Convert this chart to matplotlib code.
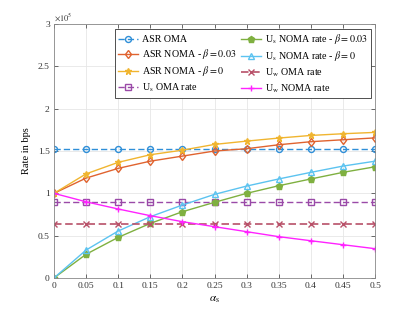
import numpy as np
import matplotlib
matplotlib.use("Agg")
import matplotlib.pyplot as plt
from matplotlib.ticker import FuncFormatter

plt.rcParams['font.family'] = ['Liberation Serif', 'DejaVu Serif']
plt.rcParams['mathtext.fontset'] = 'stix'

# alpha_s values
alpha_s = [0, 0.05, 0.1, 0.15, 0.2, 0.25, 0.3, 0.35, 0.4, 0.45, 0.5]

# rates, in units of 1e5 bps
asr_oma = [1.525] * 11
asr_noma_b003 = [1.0, 1.18, 1.295, 1.38, 1.44, 1.50, 1.527, 1.574, 1.61, 1.633, 1.655]
asr_noma_b0 = [1.0, 1.23, 1.366, 1.456, 1.51, 1.578, 1.617, 1.653, 1.684, 1.704, 1.72]
us_oma = [0.894] * 11
us_noma_b003 = [0.0, 0.28, 0.48, 0.645, 0.783, 0.894, 1.0, 1.09, 1.17, 1.248, 1.314]
us_noma_b0 = [0.0, 0.33, 0.555, 0.724, 0.862, 0.988, 1.086, 1.17, 1.248, 1.322, 1.38]
uw_oma = [0.637] * 11
uw_noma = [1.0, 0.90, 0.815, 0.736, 0.665, 0.606, 0.547, 0.488, 0.44, 0.393, 0.346]

fig = plt.figure(figsize=(4.15, 3.12), dpi=100)
ax = fig.add_axes([0.130, 0.109, 0.774, 0.814])

lw = 1.0
ms = 4.3
dash = (0, (4.5, 2.2))
ax.plot(alpha_s, asr_oma, marker='o', ls=dash, color='#2f8fd8', lw=lw, ms=ms, mfc='none', label='ASR OMA')
ax.plot(alpha_s, asr_noma_b003, '-d', color='#e0632f', lw=lw, ms=ms, mfc='none',
        label=r'ASR NOMA - $\beta = 0.03$')
ax.plot(alpha_s, asr_noma_b0, '-*', color='#f0b530', lw=lw, ms=ms + 0.5, label=r'ASR NOMA - $\beta = 0$')
ax.plot(alpha_s, us_oma, marker='s', ls=dash, color='#9a4aa8', lw=lw, ms=3.7, mfc='none',
        label=r'U$_\mathrm{s}$ OMA rate')
ax.plot(alpha_s, us_noma_b003, '-p', color='#7fb040', lw=lw, ms=ms + 0.5,
        label=r'U$_\mathrm{s}$ NOMA rate - $\beta = 0.03$')
ax.plot(alpha_s, us_noma_b0, '-^', color='#5cc3f0', lw=lw, ms=ms + 0.5, mfc='none',
        label=r'U$_\mathrm{s}$ NOMA rate - $\beta = 0$')
ax.plot(alpha_s, uw_oma, marker='x', ls=dash, color='#b85068', lw=lw + 0.2, ms=3.7,
        label=r'U$_\mathrm{w}$ OMA rate')
ax.plot(alpha_s, uw_noma, '-+', color='#ff22ff', lw=lw, ms=ms + 0.5, label=r'U$_\mathrm{w}$ NOMA rate')

ax.set_xlim(0, 0.5)
ax.set_ylim(0, 3)
ax.set_xticks(alpha_s)
ax.set_yticks([0, 0.5, 1, 1.5, 2, 2.5, 3])
ax.xaxis.set_major_formatter(FuncFormatter(lambda v, p: '%g' % v))
ax.yaxis.set_major_formatter(FuncFormatter(lambda v, p: '%g' % v))
ax.tick_params(direction='in', length=3, width=0.5, labelsize=6.8, colors='#333333',
               top=True, right=True, pad=3)
ax.grid(True, color='#e6e6e6', lw=0.6)
ax.set_axisbelow(True)
for s in ax.spines.values():
    s.set_color('#888888')
    s.set_linewidth(0.6)

ax.text(0.0, 1.005, r'$\times 10^5$', transform=ax.transAxes, fontsize=6, color='#333333',
        ha='left', va='bottom')
ax.set_xlabel(r'$\alpha_\mathrm{s}$', fontsize=8, labelpad=3)
ax.set_ylabel('Rate in bps', fontsize=7.5, labelpad=5)

leg = ax.legend(ncol=2, loc='upper right', bbox_to_anchor=(0.9875, 0.982), borderaxespad=0,
                fontsize=7.2, frameon=True, fancybox=False, edgecolor='#333333', framealpha=1,
                handlelength=2.0, columnspacing=0.4, handletextpad=0.4, labelspacing=0.32,
                borderpad=0.35)
leg.get_frame().set_linewidth(0.6)

fig.savefig('out.png', dpi=100)
